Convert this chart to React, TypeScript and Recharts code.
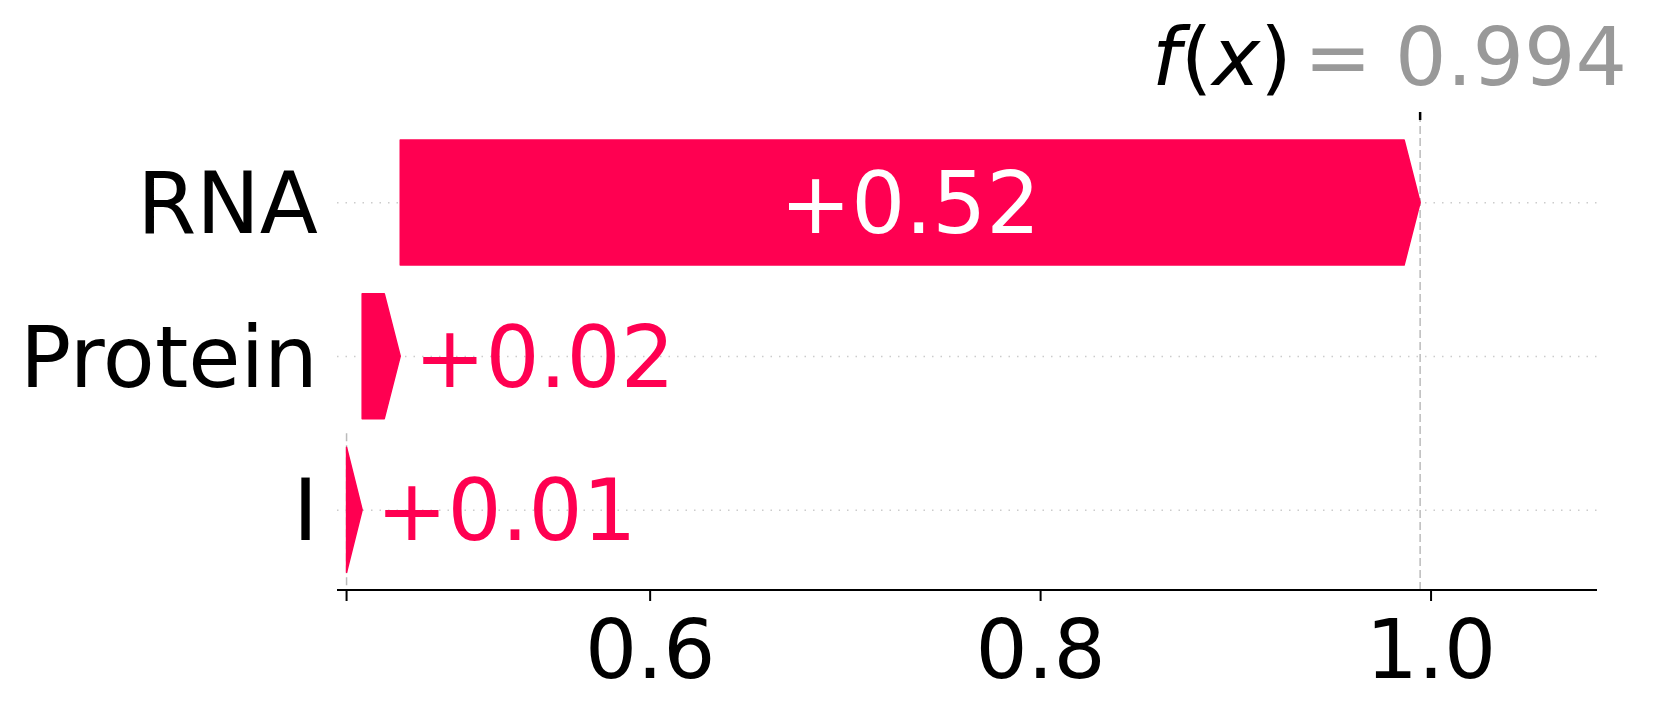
import React from 'react';
import { ComposedChart, Bar, XAxis, YAxis, ReferenceLine, ReferenceArea } from 'recharts';

// SHAP waterfall: features listed top to bottom
const features = ['RNA', 'Protein', 'I'];
const contributions = [0.5224, 0.0195, 0.008];
const baseValue = 0.4445;
const axisTicks = [0.6, 0.8, 1.0];

const PINK = '#ff0051';
const XMIN = 0.4396;
const XMAX = 1.085;
const FONT = 'DejaVu Sans';

type Row = { name: string; shap: number; range: [number, number] };

// bars stack from the bottom feature up to f(x)
const buildRows = (): Row[] => {
    let acc = baseValue;
    const rows: Row[] = [];
    for (let i = features.length - 1; i >= 0; i--) {
        const start = acc;
        acc += contributions[i];
        rows.unshift({ name: features[i], shap: contributions[i], range: [start, acc] });
    }
    return rows;
};

const data = buildRows();
const fx = baseValue + contributions.reduce((a, b) => a + b, 0);
const bottomFeature = features[features.length - 1];

const ArrowBar = (props: any) => {
    const { x, y, width, height, payload } = props;
    const head = Math.min(16, width);
    const pts = [
        [x, y],
        [x + width - head, y],
        [x + width, y + height / 2],
        [x + width - head, y + height],
        [x, y + height],
    ].map(p => p.join(',')).join(' ');
    const label = `+${payload.shap.toFixed(2)}`;
    const fs = 85;
    const inside = width > label.length * 0.62 * fs + 20;
    return (
        <g>
            <polygon points={pts} fill={PINK} stroke={PINK} strokeWidth={1.5} strokeLinejoin="round" />
            <text
                x={inside ? x + width / 2 : x + width + 14}
                y={y + height / 2}
                dy="0.36em"
                textAnchor={inside ? 'middle' : 'start'}
                fill={inside ? '#ffffff' : PINK}
                fontSize={fs}
                fontFamily={FONT}
            >
                {label}
            </text>
        </g>
    );
};

// zero-width reference area over the bottom row -> dashed base-value line
const BaseLine = (props: any) => {
    const { x, y, height } = props;
    return (
        <line x1={x} x2={x} y1={y} y2={y + height + 3} stroke="#bbbbbb" strokeWidth={1.5} strokeDasharray="8 4" />
    );
};

const FxLabel = (props: any) => {
    const { viewBox } = props;
    const x = viewBox.x;
    const top = viewBox.y;
    const baseline = top - 35;
    return (
        <g fontFamily={FONT} fontSize={81}>
            <line x1={x} x2={x} y1={top - 8} y2={top} stroke="#000" strokeWidth={2.5} />
            <text x={x - 268} y={baseline} fill="#000">
                <tspan fontStyle="italic">f</tspan>(<tspan fontStyle="italic">x</tspan>)
            </text>
            <text x={x - 116} y={baseline} fill="#999999">=</text>
            <text x={x - 25} y={baseline} fill="#999999">{fx.toFixed(3)}</text>
        </g>
    );
};

export default function App() {
    return (
        <div style={{ position: 'absolute', left: 0, top: 0, fontFamily: FONT, background: '#fff' }}>
            <ComposedChart
                width={1661}
                height={714}
                data={data}
                layout="vertical"
                margin={{ top: 120, right: 64, bottom: 0, left: 0 }}
            >
                <XAxis
                    type="number"
                    domain={[XMIN, XMAX]}
                    allowDataOverflow
                    ticks={[baseValue, ...axisTicks]}
                    tickFormatter={(v: number) => (v === baseValue ? '' : v.toFixed(1))}
                    height={124}
                    tickSize={11}
                    tickMargin={19}
                    axisLine={{ stroke: '#000', strokeWidth: 2 }}
                    tickLine={{ stroke: '#000', strokeWidth: 2 }}
                    tick={{ fill: '#000', fontSize: 82, fontFamily: FONT }}
                />
                <YAxis
                    dataKey="name"
                    type="category"
                    width={337}
                    padding={{ top: 6, bottom: 3 }}
                    axisLine={false}
                    tickLine={false}
                    tickSize={0}
                    tickMargin={19}
                    tick={{ fill: '#000', fontSize: 85, fontFamily: FONT }}
                />
                {features.map(f => (
                    <ReferenceLine
                        key={f}
                        y={f}
                        zIndex={-50}
                        stroke="#cccccc"
                        strokeWidth={1.5}
                        strokeDasharray="1.5 7"
                    />
                ))}
                <ReferenceArea
                    x1={baseValue}
                    x2={baseValue}
                    y1={bottomFeature}
                    y2={bottomFeature}
                    zIndex={-50}
                    shape={<BaseLine />}
                />
                <ReferenceLine
                    x={fx}
                    zIndex={-50}
                    stroke="#bbbbbb"
                    strokeWidth={1.5}
                    strokeDasharray="8 4"
                    label={<FxLabel />}
                />
                <Bar dataKey="range" barSize={125} shape={<ArrowBar />} isAnimationActive={false} />
            </ComposedChart>
        </div>
    );
}
